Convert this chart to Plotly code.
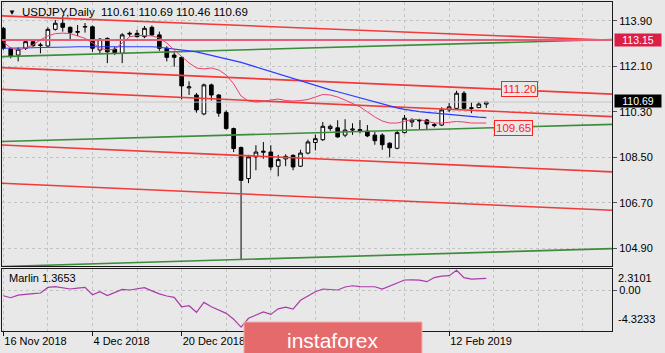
import numpy as np
import pandas as pd
import plotly.graph_objects as go

# ---------------- data ----------------
# MT4 daily bars (no bars on Dec 25 / Jan 1)
dates = [d for d in pd.bdate_range("2018-11-16", "2019-02-19")
         if d.strftime("%m-%d") not in ("12-25", "01-01")]

open_ = [113.61, 112.80, 112.55, 112.82, 113.08, 112.93, 112.91, 113.57, 113.81, 113.65,
         113.48, 113.66, 113.67, 112.75, 113.21, 112.78, 112.62, 113.38, 113.41, 113.28,
         113.65, 113.35, 112.82, 112.55, 112.46, 111.25, 110.97, 110.22, 111.37, 110.97,
         110.28, 109.64, 108.89, 107.66, 108.52, 108.70, 108.71, 108.15, 108.44, 108.58,
         108.15, 108.67, 109.09, 109.20, 109.64, 109.67, 109.38, 109.58, 109.60, 109.54,
         109.38, 109.38, 109.06, 108.86, 109.48, 109.90, 109.97, 109.98, 109.80, 109.78,
         110.38, 110.44, 111.04, 110.44, 110.47, 110.61]
high = [113.66, 112.86, 112.85, 113.13, 113.15, 113.04, 113.65, 113.94, 114.12, 113.68,
        113.74, 113.82, 113.72, 113.22, 113.25, 112.88, 113.42, 113.48, 113.55, 113.70,
        113.72, 113.48, 112.90, 112.66, 112.50, 111.51, 111.05, 111.42, 111.42, 111.00,
        110.36, 109.68, 108.93, 108.60, 108.98, 109.11, 108.98, 108.60, 108.62, 108.62,
        108.80, 109.20, 109.40, 109.90, 109.80, 109.97, 110.01, 109.85, 109.98, 109.78,
        109.50, 109.45, 109.10, 109.55, 110.18, 110.05, 110.03, 110.02, 109.87, 110.48,
        110.65, 111.14, 111.12, 110.67, 110.70, 110.69]
low = [112.75, 112.42, 112.30, 112.75, 112.88, 112.62, 112.88, 113.52, 113.48, 113.18,
       113.30, 113.44, 112.68, 112.62, 112.23, 112.55, 112.23, 113.28, 113.25, 113.22,
       113.30, 112.72, 112.30, 112.09, 110.80, 110.97, 110.27, 110.17, 110.75, 110.11,
       109.60, 108.71, 104.45, 107.48, 107.99, 108.45, 107.99, 107.75, 108.15, 107.99,
       108.12, 108.62, 108.78, 109.15, 109.55, 109.28, 109.30, 109.39, 109.45, 109.30,
       109.00, 108.80, 108.50, 108.82, 109.45, 109.70, 109.60, 109.58, 109.69, 109.74,
       110.30, 110.42, 110.40, 110.25, 110.45, 110.46]
close = [112.82, 112.50, 112.78, 113.08, 112.92, 112.95, 113.57, 113.81, 113.65, 113.45,
         113.46, 113.68, 112.82, 113.18, 112.68, 112.64, 113.35, 113.41, 113.28, 113.61,
         113.35, 112.82, 112.46, 112.46, 111.33, 111.29, 110.38, 111.37, 110.97, 110.25,
         109.64, 108.85, 107.59, 108.52, 108.71, 108.74, 108.12, 108.41, 108.54, 108.12,
         108.67, 109.11, 109.24, 109.73, 109.73, 109.31, 109.58, 109.62, 109.56, 109.35,
         109.16, 109.00, 108.88, 109.48, 110.05, 109.98, 109.95, 109.82, 109.76, 110.38,
         110.50, 111.04, 110.44, 110.46, 110.61, 110.69]

# slow moving average (blue)
ma_slow = [112.82, 112.82, 112.83, 112.84, 112.84, 112.85, 112.85, 112.86, 112.87, 112.87,
           112.88, 112.88, 112.88, 112.88, 112.88, 112.88, 112.88, 112.89, 112.89, 112.88,
           112.88, 112.86, 112.83, 112.80, 112.77, 112.72, 112.68, 112.61, 112.56, 112.50,
           112.43, 112.35, 112.26, 112.17, 112.08, 111.99, 111.90, 111.81, 111.69, 111.60,
           111.51, 111.42, 111.33, 111.25, 111.17, 111.10, 111.02, 110.93, 110.85, 110.76,
           110.67, 110.59, 110.52, 110.46, 110.40, 110.35, 110.31, 110.28, 110.25, 110.22,
           110.19, 110.16, 110.13, 110.11, 110.09, 110.07]
# fast moving average (crimson)
ma_fast = [113.07, 112.83, 112.75, 112.83, 112.95, 113.15, 113.31, 113.40, 113.42, 113.40,
           113.31, 113.21, 113.03, 112.83, 112.75, 112.79, 113.03, 113.27, 113.33, 113.33,
           113.31, 113.23, 113.03, 112.75, 112.51, 112.24, 112.04, 112.00, 112.04, 111.96,
           111.76, 111.41, 110.93, 110.73, 110.69, 110.71, 110.77, 110.81, 110.75, 110.73,
           110.75, 110.79, 110.89, 110.99, 110.97, 110.89, 110.77, 110.65, 110.50, 110.30,
           110.10, 109.94, 109.86, 109.86, 109.94, 110.00, 110.00, 109.94, 109.86, 109.86,
           109.90, 109.92, 109.90, 109.86, 109.86, 109.86]
# Marlin oscillator (lower panel)
marlin = [-0.67, -0.90, -0.60, -0.48, -0.42, -0.35, 0.30, 0.40, 0.30, 0.12,
          0.22, 0.30, -0.55, -0.20, -0.65, -0.30, 0.08, 0.00, 0.15, 0.27,
          -0.10, -0.45, -0.70, -0.85, -1.95, -1.83, -2.60, -1.44, -1.95, -2.30,
          -2.72, -3.40, -4.3233, -3.30, -2.90, -2.55, -2.84, -2.20, -2.00, -2.22,
          -1.20, -0.67, -0.20, 0.12, 0.05, 0.00, 0.35, 0.50, 0.40, 0.39,
          0.38, 0.12, 0.50, 0.85, 1.17, 1.18, 1.16, 0.97, 1.45, 1.63,
          1.67, 2.3101, 1.45, 1.28, 1.30, 1.3653]

# trend/channel lines: price at bar 0 and at bar 80
red_lines = [(114.10, 113.16), (112.05, 111.03), (111.19, 110.14),
             (108.99, 107.95), (107.47, 106.43)]
green_lines = [(112.49, 113.15), (109.13, 109.79), (104.18, 104.87)]
hline_level = 113.15
price_labels = [(111.20, 69.5), (109.65, 68.7)]   # (price, bar position)

y_ticks = [104.90, 106.70, 108.50, 110.30, 112.10, 113.90]
x_label_bars = [0, 12, 24, 60]

# ---------------- figure ----------------
xi = list(range(len(dates)))
BG = "#e8e8e8"
GRID = "#c4c4c4"
FONT = "Liberation Sans"

fig = go.Figure()

fig.add_trace(go.Candlestick(
    x=xi, open=open_, high=high, low=low, close=close,
    increasing=dict(line=dict(color="black", width=1), fillcolor="white"),
    decreasing=dict(line=dict(color="black", width=1), fillcolor="black"),
    whiskerwidth=0, showlegend=False, hoverinfo="skip",
    xaxis="x", yaxis="y"))

xl = np.array([-2.0, 84.0])
# current price (bid) line
fig.add_trace(go.Scatter(x=xl, y=[close[-1]] * 2, mode="lines",
                         line=dict(color="#c6c6c6", width=1), showlegend=False,
                         hoverinfo="skip", xaxis="x", yaxis="y"))
for p0, p1 in green_lines:
    fig.add_trace(go.Scatter(x=xl, y=p0 + (p1 - p0) * xl / 80.0, mode="lines",
                             line=dict(color="#3c8c3c", width=1.6), showlegend=False,
                             hoverinfo="skip", xaxis="x", yaxis="y"))
for p0, p1 in red_lines:
    fig.add_trace(go.Scatter(x=xl, y=p0 + (p1 - p0) * xl / 80.0, mode="lines",
                             line=dict(color="#f23a3a", width=1.6), showlegend=False,
                             hoverinfo="skip", xaxis="x", yaxis="y"))
fig.add_trace(go.Scatter(x=xl, y=[hline_level] * 2, mode="lines",
                         line=dict(color="#e4607a", width=2), showlegend=False,
                         hoverinfo="skip", xaxis="x", yaxis="y"))
fig.add_trace(go.Scatter(x=xi, y=ma_slow, mode="lines",
                         line=dict(color="#2a3cff", width=1.2), showlegend=False,
                         hoverinfo="skip", xaxis="x", yaxis="y"))
fig.add_trace(go.Scatter(x=xi, y=ma_fast, mode="lines",
                         line=dict(color="#e8406c", width=1), showlegend=False,
                         hoverinfo="skip", xaxis="x", yaxis="y"))

fig.add_trace(go.Scatter(x=xi, y=marlin, mode="lines",
                         line=dict(color="#a83ca8", width=1.2), showlegend=False,
                         hoverinfo="skip", xaxis="x2", yaxis="y2"))

xrange = [-0.175, 81.92]
grid_common = dict(showgrid=True, gridcolor=GRID, griddash="3px,3px", gridwidth=1)
frame = dict(showline=True, linecolor="#1a1a1a", linewidth=1, mirror=True, zeroline=False)

fig.update_layout(
    width=665, height=353,
    margin=dict(l=2, r=53, t=2, b=22),
    paper_bgcolor=BG, plot_bgcolor=BG,
    font=dict(family=FONT, size=11, color="black"),
    hovermode=False,
    xaxis=dict(domain=[0, 1], range=xrange, anchor="y", tickmode="array",
               tickvals=[0, 12, 24, 36, 48, 60], showticklabels=False, ticks="",
               minor=dict(tickmode="linear", tick0=0, dtick=6, showgrid=True,
                          gridcolor=GRID, griddash="3px,3px"),
               rangeslider=dict(visible=False), **grid_common, **frame),
    yaxis=dict(domain=[0.1976, 1], range=[104.199, 114.652], side="right",
               anchor="x", tickmode="array", tickvals=y_ticks,
               ticktext=[f"{v:.2f}" for v in y_ticks], ticks="outside",
               ticklen=4, tickcolor="#555555", **grid_common, **frame),
    xaxis2=dict(domain=[0, 1], range=xrange, anchor="y2", matches="x",
                tickmode="array", tickvals=x_label_bars,
                ticktext=[dates[i].strftime("%-d %b %Y") for i in x_label_bars],
                ticklabelposition="outside right", ticks="outside", ticklen=4,
                tickcolor="#1a1a1a",
                minor=dict(tickmode="linear", tick0=0, dtick=6, showgrid=True,
                           gridcolor=GRID, griddash="3px,3px"),
                **grid_common, **frame),
    yaxis2=dict(domain=[0, 0.1884], range=[-4.78, 2.45], side="right",
                anchor="x2", tickmode="array", tickvals=[0], ticktext=["0.00"],
                ticks="outside", ticklen=4, tickcolor="#555555",
                **grid_common, **frame),
)

ann = []
# title
ann.append(dict(xref="paper", yref="paper", x=0.0295, y=0.9696, xanchor="left",
                yanchor="middle", showarrow=False, font=dict(size=11.5),
                text=f"USDJPY,Daily  {open_[-1]:.2f} {high[-1]:.2f} {low[-1]:.2f} {close[-1]:.2f}"))
ann.append(dict(xref="paper", yref="paper", x=0.0165, y=0.9696, xanchor="center",
                yanchor="middle", showarrow=False, font=dict(size=8), text="▼"))
# indicator caption
ann.append(dict(xref="paper", yref="paper", x=0.0082, y=0.1626, xanchor="left",
                yanchor="middle", showarrow=False, font=dict(size=11),
                text=f"Marlin {marlin[-1]:.4f}"))
# indicator extreme labels
ann.append(dict(xref="paper", yref="y2", x=1.007, y=max(marlin), xanchor="left",
                yanchor="top", showarrow=False, font=dict(size=11),
                text=f"{max(marlin):.4f}"))
ann.append(dict(xref="paper", yref="y2", x=1.007, y=min(marlin), xanchor="left",
                yanchor="bottom", showarrow=False, font=dict(size=11),
                text=f"{min(marlin):.4f}"))
# right-axis price boxes
ann.append(dict(xref="paper", yref="y", x=1.003, y=hline_level, xanchor="left",
                yanchor="middle", showarrow=False, bgcolor="#dc1f44",
                font=dict(size=10.5, color="white"), width=44, height=10,
                text=f"{hline_level:.2f}"))
ann.append(dict(xref="paper", yref="y", x=1.003, y=close[-1] + 0.04, xanchor="left",
                yanchor="middle", showarrow=False, bgcolor="black",
                font=dict(size=10.5, color="white"), width=44, height=10,
                text=f"{close[-1]:.2f}"))
# in-chart price labels
for val, bx in price_labels:
    ann.append(dict(xref="x", yref="y", x=bx, y=val, xanchor="center",
                    yanchor="middle", showarrow=False, bgcolor=BG,
                    bordercolor="#ff2020", borderwidth=1, borderpad=1,
                    font=dict(size=11.5, color="#ff2020"), text=f"{val:.2f}"))
# watermark
ann.append(dict(xref="paper", yref="paper", x=0.5426, y=-0.028, xanchor="center",
                yanchor="middle", showarrow=False,
                font=dict(size=21, color="white", family="Liberation Sans"),
                text="instaforex"))
fig.update_layout(annotations=ann)

fig.add_shape(type="rect", xref="paper", yref="paper", x0=0.3967, x1=0.6885,
              y0=-0.075, y1=0.0274, fillcolor="#e46a6c",
              line=dict(color="#f2b0b0", width=1), layer="above")

fig.write_html("out.html")
